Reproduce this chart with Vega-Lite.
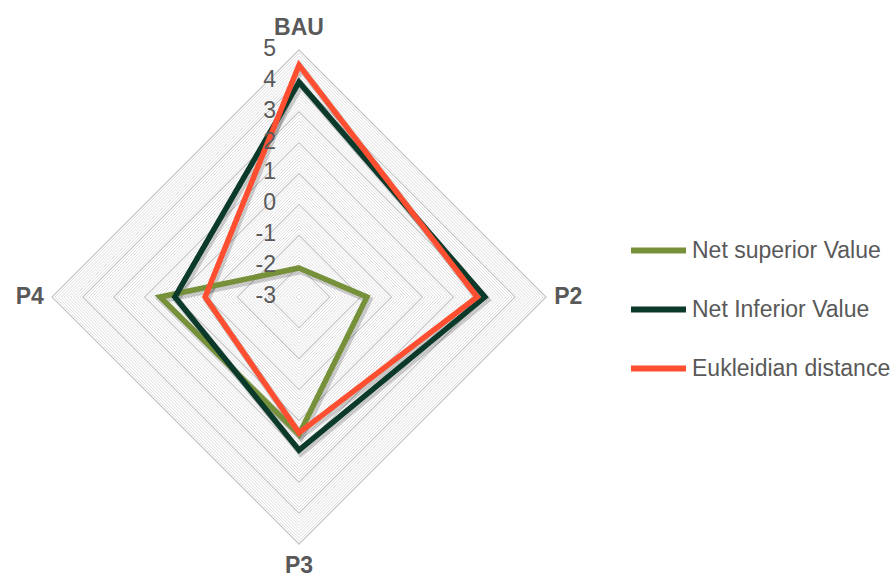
{
  "$schema": "https://vega.github.io/schema/vega-lite/v6.json",
  "width": 895,
  "height": 577,
  "autosize": {"type": "none"},
  "padding": 0,
  "background": "white",
  "config": {"view": {"stroke": null}, "font": "Liberation Sans"},
  "datasets": {
    "minor": [
      {"level": -2.9}, {"level": -2.8}, {"level": -2.7}, {"level": -2.6}, {"level": -2.5}, {"level": -2.4}, {"level": -2.3}, {"level": -2.2}, {"level": -2.1},
      {"level": -1.9}, {"level": -1.8}, {"level": -1.7}, {"level": -1.6}, {"level": -1.5}, {"level": -1.4}, {"level": -1.3}, {"level": -1.2}, {"level": -1.1},
      {"level": -0.9}, {"level": -0.8}, {"level": -0.7}, {"level": -0.6}, {"level": -0.5}, {"level": -0.4}, {"level": -0.3}, {"level": -0.2}, {"level": -0.1},
      {"level": 0.1}, {"level": 0.2}, {"level": 0.3}, {"level": 0.4}, {"level": 0.5}, {"level": 0.6}, {"level": 0.7}, {"level": 0.8}, {"level": 0.9},
      {"level": 1.1}, {"level": 1.2}, {"level": 1.3}, {"level": 1.4}, {"level": 1.5}, {"level": 1.6}, {"level": 1.7}, {"level": 1.8}, {"level": 1.9},
      {"level": 2.1}, {"level": 2.2}, {"level": 2.3}, {"level": 2.4}, {"level": 2.5}, {"level": 2.6}, {"level": 2.7}, {"level": 2.8}, {"level": 2.9},
      {"level": 3.1}, {"level": 3.2}, {"level": 3.3}, {"level": 3.4}, {"level": 3.5}, {"level": 3.6}, {"level": 3.7}, {"level": 3.8}, {"level": 3.9},
      {"level": 4.1}, {"level": 4.2}, {"level": 4.3}, {"level": 4.4}, {"level": 4.5}, {"level": 4.6}, {"level": 4.7}, {"level": 4.8}, {"level": 4.9}
    ],
    "major": [
      {"level": -3}, {"level": -2}, {"level": -1}, {"level": 0}, {"level": 1}, {"level": 2}, {"level": 3}, {"level": 4}, {"level": 5}
    ],
    "axes": [
      {"axis": "BAU"}, {"axis": "P2"}, {"axis": "P3"}, {"axis": "P4"}
    ],
    "series": [
      {"series": "Net superior Value", "axis": "BAU", "value": -2.06},
      {"series": "Net superior Value", "axis": "P2", "value": -0.8},
      {"series": "Net superior Value", "axis": "P3", "value": 1.45},
      {"series": "Net superior Value", "axis": "P4", "value": 1.5},
      {"series": "Net Inferior Value", "axis": "BAU", "value": 3.96},
      {"series": "Net Inferior Value", "axis": "P2", "value": 3.02},
      {"series": "Net Inferior Value", "axis": "P3", "value": 1.96},
      {"series": "Net Inferior Value", "axis": "P4", "value": 1.02},
      {"series": "Eukleidian distance", "axis": "BAU", "value": 4.51},
      {"series": "Eukleidian distance", "axis": "P2", "value": 2.77},
      {"series": "Eukleidian distance", "axis": "P3", "value": 1.4},
      {"series": "Eukleidian distance", "axis": "P4", "value": 0.04}
    ]
  },
  "encoding": {
    "x": {"field": "px", "type": "quantitative", "scale": {"domain": [-9.6842, 19.3036], "nice": false, "zero": false}, "axis": null},
    "y": {"field": "py", "type": "quantitative", "scale": {"domain": [-9.0688, 9.6194], "nice": false, "zero": false}, "axis": null}
  },
  "layer": [
    {
      "data": {"name": "minor"},
      "transform": [
        {"calculate": "[0,1,2,3]", "as": "k"},
        {"flatten": ["k"]},
        {"calculate": "(datum.level + 3) * sin(datum.k * PI / 2)", "as": "px"},
        {"calculate": "(datum.level + 3) * cos(datum.k * PI / 2)", "as": "py"}
      ],
      "mark": {"type": "line", "interpolate": "linear-closed", "stroke": "#dedede", "strokeWidth": 1},
      "encoding": {"detail": {"field": "level", "type": "nominal"}, "order": {"field": "k", "type": "quantitative"}}
    },
    {
      "data": {"name": "major"},
      "transform": [
        {"calculate": "[0,1,2,3]", "as": "k"},
        {"flatten": ["k"]},
        {"calculate": "(datum.level + 3) * sin(datum.k * PI / 2)", "as": "px"},
        {"calculate": "(datum.level + 3) * cos(datum.k * PI / 2)", "as": "py"}
      ],
      "mark": {"type": "line", "interpolate": "linear-closed", "stroke": "#c8c8c8", "strokeWidth": 1.3},
      "encoding": {"detail": {"field": "level", "type": "nominal"}, "order": {"field": "k", "type": "quantitative"}}
    },
    {
      "data": {"name": "series"},
      "transform": [
        {"calculate": "indexof(['BAU','P2','P3','P4'], datum.axis)", "as": "idx"},
        {"calculate": "(datum.value + 3) * sin(datum.idx * PI / 2) + 0.06", "as": "px"},
        {"calculate": "(datum.value + 3) * cos(datum.idx * PI / 2) - 0.09", "as": "py"}
      ],
      "mark": {"type": "line", "interpolate": "linear-closed", "stroke": "#000000", "strokeOpacity": 0.18, "strokeWidth": 7, "strokeJoin": "miter"},
      "encoding": {"detail": {"field": "series", "type": "nominal"}, "order": {"field": "idx", "type": "quantitative"}}
    },
    {
      "data": {"name": "series"},
      "transform": [
        {"calculate": "indexof(['BAU','P2','P3','P4'], datum.axis)", "as": "idx"},
        {"calculate": "(datum.value + 3) * sin(datum.idx * PI / 2)", "as": "px"},
        {"calculate": "(datum.value + 3) * cos(datum.idx * PI / 2)", "as": "py"}
      ],
      "mark": {"type": "line", "interpolate": "linear-closed", "strokeWidth": 5.5, "strokeJoin": "miter"},
      "encoding": {
        "color": {
          "field": "series",
          "type": "nominal",
          "scale": {"domain": ["Net superior Value", "Net Inferior Value", "Eukleidian distance"], "range": ["#77913b", "#0b3a2b", "#ff4f30"]},
          "legend": {
            "title": null,
            "orient": "none",
            "legendX": 628,
            "legendY": 220,
            "symbolType": "stroke",
            "symbolSize": 3025,
            "symbolStrokeWidth": 6,
            "labelFontSize": 23,
            "labelColor": "#595959",
            "labelFont": "Liberation Sans",
            "labelOffset": 3,
            "labelLimit": 400,
            "rowPadding": 16,
            "padding": 0
          }
        },
        "order": {"field": "idx", "type": "quantitative"}
      }
    },
    {
      "data": {"name": "major"},
      "transform": [
        {"calculate": "0", "as": "px"},
        {"calculate": "datum.level + 3", "as": "py"}
      ],
      "mark": {"type": "text", "align": "right", "baseline": "middle", "dx": -23, "dy": -1, "fontSize": 23, "font": "Liberation Sans", "fill": "#595959"},
      "encoding": {"text": {"field": "level", "type": "nominal"}}
    },
    {
      "data": {"name": "axes"},
      "transform": [
        {"calculate": "indexof(['BAU','P2','P3','P4'], datum.axis)", "as": "idx"},
        {"calculate": "8.72 * sin(datum.idx * PI / 2)", "as": "px"},
        {"calculate": "8.72 * cos(datum.idx * PI / 2)", "as": "py"}
      ],
      "mark": {"type": "text", "align": "center", "baseline": "middle", "fontSize": 23, "fontWeight": "bold", "font": "Liberation Sans", "fill": "#595959"},
      "encoding": {"text": {"field": "axis", "type": "nominal"}}
    }
  ]
}
